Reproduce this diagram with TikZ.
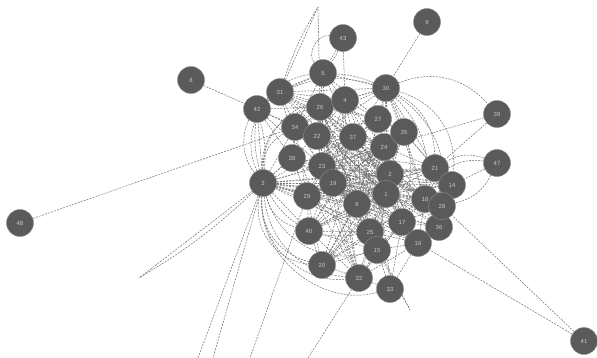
\documentclass[tikz,border=0pt]{standalone}
\usepackage{fontspec}
\setmainfont{Liberation Sans}
\usetikzlibrary{backgrounds}
\definecolor{nodegray}{RGB}{90,90,90}
\definecolor{labelgray}{RGB}{200,200,200}
\definecolor{linkgray}{RGB}{115,115,115}
\tikzset{
  vertex/.style={circle, fill=nodegray, draw=nodegray!70, line width=0.6pt, minimum size=1.35cm, inner sep=0pt, text=labelgray, font=\fontsize{8.5}{8.5}\selectfont},
  link/.style={linkgray, line width=0.75pt, dash pattern=on 2.8pt off 1.7pt}
}
\begin{document}
\begin{tikzpicture}[x=0.05cm, y=-0.05cm]
  \useasboundingbox (0,0) rectangle (597,358);
  % outer vertices
  \node[vertex] (48) at (20,223) {48};
  \node[vertex] (41) at (584,341) {41};
  \node[vertex] (8) at (191,80) {8};
  \node[vertex] (9) at (427,22) {9};
  \node[vertex] (43) at (343,38) {43};
  \node[vertex] (39) at (497,114) {39};
  \node[vertex] (47) at (497,163) {47};
  % upper cluster
  \node[vertex] (34) at (295,127) {34};
  \node[vertex] (22) at (317,136) {22};
  \node[vertex] (26) at (320,107) {26};
  \node[vertex] (4) at (345,100) {4};
  \node[vertex] (5) at (323,73) {5};
  \node[vertex] (31) at (280,92) {31};
  \node[vertex] (42) at (257,109) {42};
  \node[vertex] (30) at (386,88) {30};
  \node[vertex] (27) at (378,119) {27};
  \node[vertex] (24) at (384,147) {24};
  \node[vertex] (35) at (404,132) {35};
  \node[vertex] (37) at (353,137) {37};
  % middle cluster
  \node[vertex] (23) at (322,166) {23};
  \node[vertex] (19) at (333,183) {19};
  \node[vertex] (38) at (292,158) {38};
  \node[vertex] (3) at (263,183) {3};
  \node[vertex] (29) at (307,196) {29};
  \node[vertex] (6) at (357,204) {6};
  \node[vertex] (2) at (390,174) {2};
  \node[vertex] (1) at (386,194) {1};
  % right cluster
  \node[vertex] (21) at (435,168) {21};
  \node[vertex] (14) at (452,185) {14};
  \node[vertex] (18) at (425,199) {18};
  \node[vertex] (36) at (439,227) {36};
  \node[vertex] (28) at (442,206) {28};
  \node[vertex] (17) at (402,222) {17};
  \node[vertex] (16) at (418,243) {16};
  % lower cluster
  \node[vertex] (25) at (370,232) {25};
  \node[vertex] (15) at (377,250) {15};
  \node[vertex] (40) at (309,231) {40};
  \node[vertex] (20) at (322,265) {20};
  \node[vertex] (32) at (359,278) {32};
  \node[vertex] (33) at (390,289) {33};
  % loose ends
  \coordinate (b1) at (198,358);
  \coordinate (b2) at (213,358);
  \coordinate (b3) at (250,358);
  \coordinate (b4) at (308,358);
  \coordinate (v1) at (139,278);
  \coordinate (t1) at (318,7);
  \coordinate (s1) at (410,310);

  \begin{scope}[on background layer]
    \fill[white] (0,0) rectangle (597,358);
    % outer links
    \draw[link] (8) -- (42);
    \draw[link] (9) -- (30);
    \draw[link] (43) -- (5);
    \draw[link] (43) to[bend left=8] (5);
    \draw[link] (43) to[bend right=70] (5);
    \draw[link] (43) -- (4);
    \draw[link] (30) to[bend left=35] (39);
    \draw[link] (39) -- (21);
    \draw[link] (39) -- (24);
    \draw[link] (47) to[bend right=25] (21);
    \draw[link] (47) to[bend right=35] (18);
    \draw[link] (47) -- (14);
    \draw[link] (47) to[bend left=25] (28);
    \draw[link] (41) -- (28);
    \draw[link] (41) -- (16);
    \draw[link] (48) -- (34);
    \draw[link] (3) -- (b1);
    \draw[link] (3) -- (b2);
    \draw[link] (29) -- (b3);
    \draw[link] (32) -- (b4);
    \draw[link] (3) -- (v1);
    \draw[link] (3) to[bend left=6] (v1);
    \draw[link] (31) -- (t1);
    \draw[link] (31) to[bend left=6] (t1);
    \draw[link] (26) -- (t1);
    \draw[link] (25) -- (s1);
    \draw[link] (15) -- (s1);
    % arcs round 3
    \draw[link] (3) to[bend right=30] (40);
    \draw[link] (3) to[bend right=40] (20);
    \draw[link] (3) to[bend right=50] (20);
    \draw[link] (3) to[bend right=50] (32);
    \draw[link] (3) to[bend right=40] (32);
    \draw[link] (3) to[bend right=45] (15);
    \draw[link] (3) to[bend right=55] (33);
    \draw[link] (3) to[bend right=35] (25);
    \draw[link] (3) to[bend left=50] (31);
    \draw[link] (3) to[bend left=55] (5);
    \draw[link] (3) to[bend left=40] (26);
    \draw[link] (3) to[bend left=10] (42);
    \draw[link] (3) to[bend right=10] (42);
    \draw[link] (3) to[bend left=30] (34);
    \draw[link] (3) to[bend left=45] (4);
    % arcs round 30
    \draw[link] (30) to[bend left=30] (21);
    \draw[link] (30) to[bend left=40] (14);
    \draw[link] (30) to[bend left=25] (18);
    \draw[link] (30) to[bend left=30] (28);
    \draw[link] (30) to[bend left=20] (17);
    \draw[link] (30) to[bend right=25] (42);
    \draw[link] (31) to[bend left=25] (30);
    % core links
    \foreach \t in {42,38,23,19,29,6,1,2,22,34,40,17,25,24,37,18,21,28,16,14,36}
      \draw[link] (3) -- (\t);
    \foreach \t in {4,5,26,31,27,35,24,37,2,1,21,18,22,34}
      \draw[link] (30) -- (\t);
    \foreach \t in {5,4,26,22,34,37,27,24,2,1}
      \draw[link] (31) -- (\t);
    \foreach \t in {26,31,34,22,23,38}
      \draw[link] (42) -- (\t);
    \foreach \t in {26,4,22,37,27,34}
      \draw[link] (5) -- (\t);
    \foreach \t in {26,27,37,22,34,24,23,2,1,19}
      \draw[link] (4) -- (\t);
    \foreach \t in {22,34,37,27,23,19,24,6,2}
      \draw[link] (26) -- (\t);
    \foreach \t in {22,38,23,19,29}
      \draw[link] (34) -- (\t);
    \foreach \t in {23,19,29,6,1,2}
      \draw[link] (38) -- (\t);
    \foreach \t in {23,37,19,24,6,1,2,27}
      \draw[link] (22) -- (\t);
    \foreach \t in {19,29,6,37,24,1,2,25,17}
      \draw[link] (23) -- (\t);
    \foreach \t in {29,6,1,2,24,25,15,17,18}
      \draw[link] (19) -- (\t);
    \foreach \t in {6,40,25,15,20}
      \draw[link] (29) -- (\t);
    \foreach \t in {6,25,15,20,32}
      \draw[link] (40) -- (\t);
    \foreach \t in {32,25,15,6}
      \draw[link] (20) -- (\t);
    \foreach \t in {15,33,25,17,16}
      \draw[link] (32) -- (\t);
    \foreach \t in {15,16,17}
      \draw[link] (33) -- (\t);
    \foreach \t in {25,17,16}
      \draw[link] (15) -- (\t);
    \foreach \t in {17,16,18}
      \draw[link] (25) -- (\t);
    \foreach \t in {36,17,18,28}
      \draw[link] (16) -- (\t);
    \foreach \t in {28,18,17}
      \draw[link] (36) -- (\t);
    \foreach \t in {18,14,21}
      \draw[link] (28) -- (\t);
    \foreach \t in {21,14,17}
      \draw[link] (18) -- (\t);
    \foreach \t in {14,24,35,2}
      \draw[link] (21) -- (\t);
    \foreach \t in {24,27,2,21,18}
      \draw[link] (35) -- (\t);
    \foreach \t in {24,37,2}
      \draw[link] (27) -- (\t);
    \foreach \t in {24,2,6,19}
      \draw[link] (37) -- (\t);
    \foreach \t in {2,1,18}
      \draw[link] (24) -- (\t);
    \foreach \t in {6,17,18,25,15,16,21,28,36,14,37,27,29,40,20,32}
      \draw[link] (1) -- (\t);
    \foreach \t in {6,17,18,21,25,14,28,15,16,29}
      \draw[link] (2) -- (\t);
    \foreach \t in {25,15,17,24,18,16,27}
      \draw[link] (6) -- (\t);
    \foreach \t in {28,21,24,32}
      \draw[link] (17) -- (\t);
    % bent core links
    \foreach \t in {1,6,17,25,15,16,18,36}
      \draw[link] (22) to[bend left=12] (\t);
    \foreach \t in {1,6,17,25,15,16,18,28}
      \draw[link] (26) to[bend right=12] (\t);
    \foreach \t in {1,6,17,25,15,16,36,33}
      \draw[link] (37) to[bend left=10] (\t);
    \foreach \t in {2,24,35,27,21,14,18}
      \draw[link] (29) to[bend left=10] (\t);
    \foreach \t in {2,24,35,27,21,14,28}
      \draw[link] (40) to[bend left=12] (\t);
    \foreach \t in {2,24,35,27,21,4,30}
      \draw[link] (20) to[bend right=10] (\t);
    \foreach \t in {35,21,14,28,18,36}
      \draw[link] (23) to[bend left=10] (\t);
    \foreach \t in {35,21,14,28,36,16}
      \draw[link] (19) to[bend right=8] (\t);
    \foreach \t in {4,26,22,5,31,37}
      \draw[link] (32) to[bend left=8] (\t);
  \end{scope}
\end{tikzpicture}
\end{document}
